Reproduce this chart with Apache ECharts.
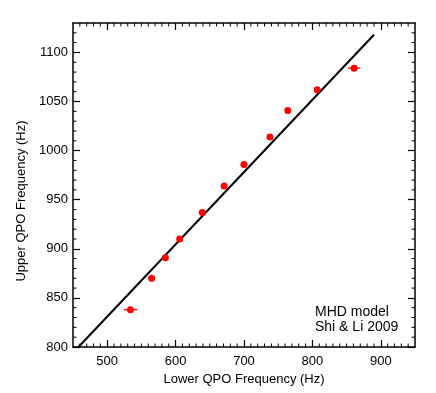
<!DOCTYPE html>
<html>
<head>
<meta charset="utf-8">
<script src="https://cdn.jsdelivr.net/npm/echarts@6/dist/echarts.min.js"></script>
<style>
  html, body { margin: 0; padding: 0; background: #fff; }
  #main { width: 436px; height: 393px; }
</style>
</head>
<body>
<div id="main"></div>
<script>
// data
var lowerQPO = [534, 565, 585, 606, 639, 671, 700, 738, 764, 807, 861];
var upperQPO = [838, 870, 891, 910, 937, 964, 986, 1014, 1041, 1062, 1084];
var lowerErr = [10, 2, 2, 2, 2, 2, 2, 2, 2, 2, 9];
// model line (MHD model, Shi & Li 2009)
var modelX = [458, 890];
var modelY = [800, 1118];
var xTicks = [500, 600, 700, 800, 900];
var yTicks = [800, 850, 900, 950, 1000, 1050, 1100];
var xMin = 450, xMax = 950, yMin = 800, yMax = 1130;

var font = 'Liberation Sans';

var points = lowerQPO.map(function (x, i) { return [x, upperQPO[i]]; });
var errBars = lowerQPO.map(function (x, i) { return [x, upperQPO[i], x - lowerErr[i], x + lowerErr[i]]; });
var model = modelX.map(function (x, i) { return [x, modelY[i]]; });

// minor ticks every 10 Hz
var xMinor = [], yMinor = [];
for (var v = xMin + 10; v < xMax; v += 10) if (xTicks.indexOf(v) < 0) xMinor.push([v, yMin]);
for (var w = yMin + 10; w < yMax; w += 10) if (yTicks.indexOf(w) < 0) yMinor.push([xMin, w]);

var myChart = echarts.init(document.getElementById('main'));
function plain(v) { return String(v); }

function majorX(pos, show) {
    return {
        type: 'value', position: pos, min: xMin, max: xMax,
        name: show ? 'Lower QPO Frequency (Hz)' : '',
        nameLocation: 'middle', nameGap: 22,
        nameTextStyle: { color: '#000', fontFamily: font, fontSize: 13 },
        axisLine: { show: true, onZero: false, lineStyle: { color: '#000', width: 1.5 } },
        axisTick: { show: true, inside: true, length: 7, customValues: xTicks, lineStyle: { color: '#000', width: 1.2 } },
        axisLabel: { show: show, customValues: xTicks, formatter: plain, color: '#000', fontFamily: font, fontSize: 13, margin: 8 },
        splitLine: { show: false }
    };
}
function majorY(pos, show) {
    return {
        type: 'value', position: pos, min: yMin, max: yMax,
        name: show ? 'Upper QPO Frequency (Hz)' : '',
        nameLocation: 'middle', nameGap: 32,
        nameTextStyle: { color: '#000', fontFamily: font, fontSize: 13, padding: [0, 32, 0, 0] },
        axisLine: { show: true, onZero: false, lineStyle: { color: '#000', width: 1.5 } },
        axisTick: { show: true, inside: true, length: 7, customValues: yTicks, lineStyle: { color: '#000', width: 1.2 } },
        axisLabel: { show: show, customValues: yTicks, formatter: plain, color: '#000', fontFamily: font, fontSize: 13, margin: 5 },
        splitLine: { show: false }
    };
}

// short inward ticks on both opposite sides, placed via the axes' scales
function minorTicks(data, horiz) {
    return {
        type: 'custom', data: data, silent: true, clip: false, z: 1,
        renderItem: function (params, api) {
            var len = 3.5, s = { stroke: '#000', lineWidth: 1 };
            if (horiz) {
                var b = api.coord([api.value(0), yMin]), t = api.coord([api.value(0), yMax]);
                return { type: 'group', children: [
                    { type: 'line', shape: { x1: b[0], y1: b[1], x2: b[0], y2: b[1] - len }, style: s },
                    { type: 'line', shape: { x1: t[0], y1: t[1], x2: t[0], y2: t[1] + len }, style: s }
                ] };
            }
            var l = api.coord([xMin, api.value(1)]), r = api.coord([xMax, api.value(1)]);
            return { type: 'group', children: [
                { type: 'line', shape: { x1: l[0], y1: l[1], x2: l[0] + len, y2: l[1] }, style: s },
                { type: 'line', shape: { x1: r[0], y1: r[1], x2: r[0] - len, y2: r[1] }, style: s }
            ] };
        }
    };
}

var option = {
    backgroundColor: '#fff',
    animation: false,
    animationDuration: 0,
    animationDurationUpdate: 0,
    title: { text: '' },
    grid: { left: 73, top: 23, right: 21, bottom: 46 },
    xAxis: [majorX('bottom', true), majorX('top', false)],
    yAxis: [majorY('left', true), majorY('right', false)],
    graphic: [{
        type: 'text', left: 315, top: 305,
        style: { text: 'MHD model\nShi & Li 2009', fill: '#000', font: '14px "Liberation Sans"', lineHeight: 15 }
    }],
    series: [minorTicks(xMinor, true), minorTicks(yMinor, false), {
        type: 'line',
        data: model,
        symbol: 'none',
        lineStyle: { color: '#000', width: 2 },
        z: 2
    }, {
        type: 'custom',
        data: errBars,
        encode: { x: [0, 2, 3], y: 1 },
        renderItem: function (params, api) {
            var a = api.coord([api.value(2), api.value(1)]);
            var b = api.coord([api.value(3), api.value(1)]);
            return {
                type: 'line',
                shape: { x1: a[0], y1: a[1], x2: b[0], y2: b[1] },
                style: { stroke: '#ff0000', lineWidth: 1.3 }
            };
        },
        z: 3
    }, {
        type: 'scatter',
        data: points,
        symbol: 'circle',
        symbolSize: 7,
        itemStyle: { color: '#ff0000', opacity: 1 },
        z: 4
    }]
};
myChart.setOption(option);
</script>
</body>
</html>
